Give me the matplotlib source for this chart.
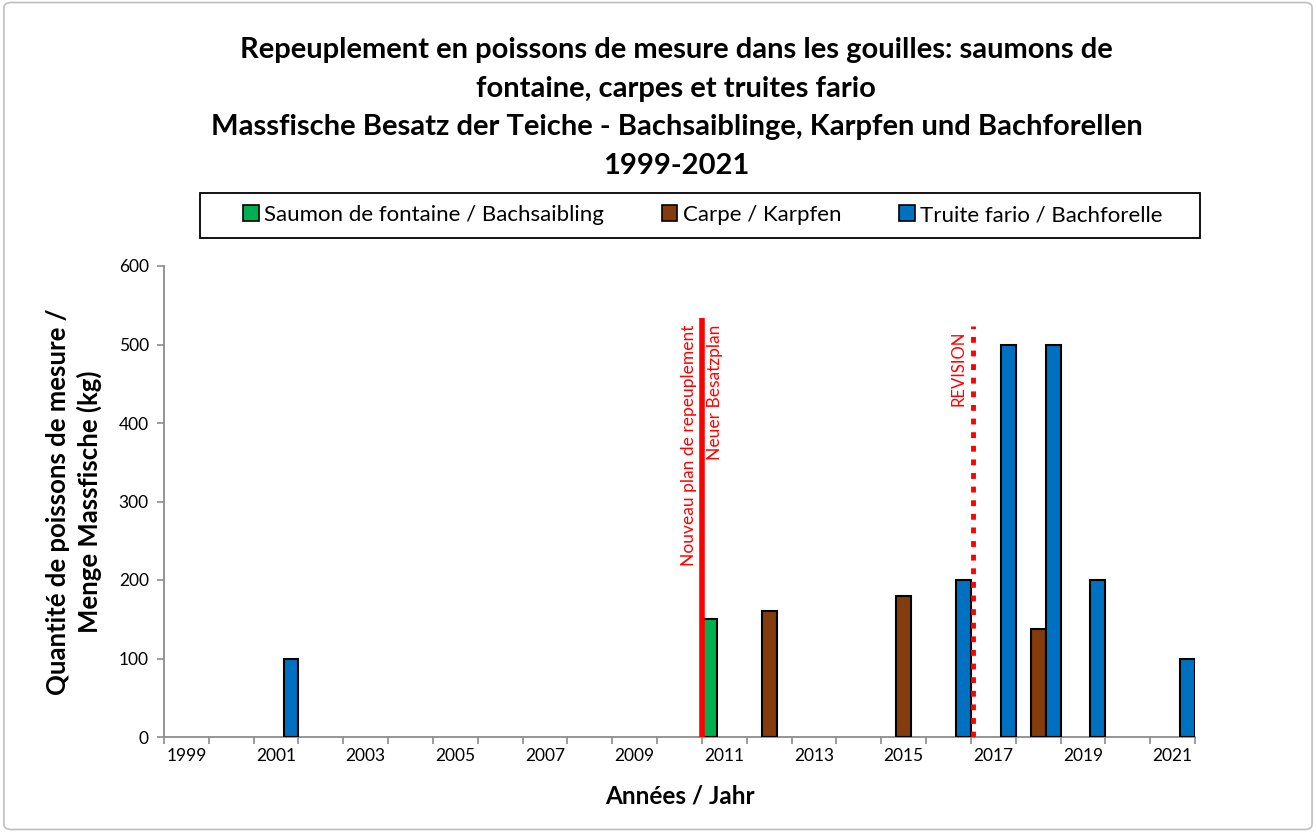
import numpy as np
import matplotlib.pyplot as plt
from matplotlib.patches import FancyBboxPatch, Patch, Rectangle

plt.rcParams['font.family'] = ['Lato', 'DejaVu Sans']

years = list(range(1999, 2022))
saumon = [0] * 12 + [150] + [0] * 10
carpe = [0] * 13 + [160, 0, 0, 180, 0, 0, 138, 0, 0, 0]
truite = [0, 0, 100] + [0] * 14 + [200, 500, 500, 200, 0, 100]
series = [
    ("Saumon de fontaine / Bachsaibling", saumon, "#00B050"),
    ("Carpe / Karpfen", carpe, "#843C0C"),
    ("Truite fario / Bachforelle", truite, "#0070C0"),
]

fig = plt.figure(figsize=(13.16, 8.32), dpi=100)
ax = fig.add_axes([164 / 1316, 1 - 737 / 832, (1195 - 164) / 1316, (737 - 266) / 832])

x = np.arange(len(years))
w = 1 / 3
for i, (name, vals, col) in enumerate(series):
    v = np.array(vals, dtype=float)
    v[v == 0] = np.nan
    ax.bar(x + (i - 1) * w, v, w, color=col, edgecolor='black', linewidth=1.5, zorder=3)

ax.set_xlim(-0.5, len(years) - 0.5)
ax.set_ylim(0, 600)
ax.set_yticks(range(0, 601, 100))
ax.set_xticks(x[::2])
ax.set_xticklabels([str(y) for y in years[::2]], fontsize=12.5)
ax.set_xticks(np.arange(-0.5, len(years), 1), minor=True)
ax.tick_params(axis='x', which='major', length=0, pad=8)
ax.tick_params(axis='x', which='minor', length=5, color='#8c8c8c', width=1.2)
ax.tick_params(axis='y', length=5, color='#8c8c8c', width=1.2, labelsize=12.5, pad=6)
for s in ['top', 'right']:
    ax.spines[s].set_visible(False)
for s in ['left', 'bottom']:
    ax.spines[s].set_color('#8c8c8c')
    ax.spines[s].set_linewidth(1.3)

# new stocking plan and revision markers
ax.plot([11.5, 11.5], [0, 534], color='red', lw=4, zorder=4, solid_capstyle='butt')
ax.text(11.38, 525, "Nouveau plan de repeuplement", rotation=90, color='red',
        fontsize=12.5, ha='right', va='top')
ax.text(11.62, 525, "Neuer Besatzplan", rotation=90, color='red',
        fontsize=12.5, ha='left', va='top')
ax.plot([17.55, 17.55], [0, 524], color='red', lw=3.5, zorder=4, dashes=(1.2, 1.6))
ax.text(17.4, 518, "REVISION", rotation=90, color='red', fontsize=12, ha='right', va='top')

ax.set_xlabel("Années / Jahr", fontsize=17.5, fontweight='bold', labelpad=15)
ax.set_ylabel("Quantité de poissons de mesure /\nMenge Massfische (kg)", fontsize=18.5,
              fontweight='bold', labelpad=12, linespacing=1.3)

fig.text(0.514, 1 - 37 / 832,
         "Repeuplement en poissons de mesure dans les gouilles: saumons de\n"
         "fontaine, carpes et truites fario\n"
         "Massfische Besatz der Teiche - Bachsaiblinge, Karpfen und Bachforellen\n"
         "1999-2021", ha='center', va='top', fontsize=21, fontweight='bold',
         linespacing=1.6)

# legend: entries without frame, box drawn separately (wider than entries)
handles = [Patch(facecolor=c, edgecolor='black', linewidth=1.2) for _, _, c in series]
leg = fig.legend(handles, [n for n, _, _ in series], loc='center',
                 bbox_to_anchor=(703 / 1316, 1 - 215 / 832), ncol=3, fontsize=16,
                 frameon=False, columnspacing=2.6,
                 handlelength=0.7, handleheight=0.7, handletextpad=0.25,
                 borderpad=0.5, borderaxespad=0)
fig.patches.append(Rectangle((200 / 1316, 1 - 238 / 832), 1000 / 1316, 45 / 832,
                             transform=fig.transFigure, facecolor='none',
                             edgecolor='black', linewidth=1.3))

fig.patches.append(FancyBboxPatch((0.003, 0.003), 0.994, 0.994, boxstyle="round,pad=0,rounding_size=0.006",
                                  transform=fig.transFigure, facecolor='none',
                                  edgecolor='#bfbfbf', linewidth=1.2))

fig.savefig("out.png", dpi=100)
